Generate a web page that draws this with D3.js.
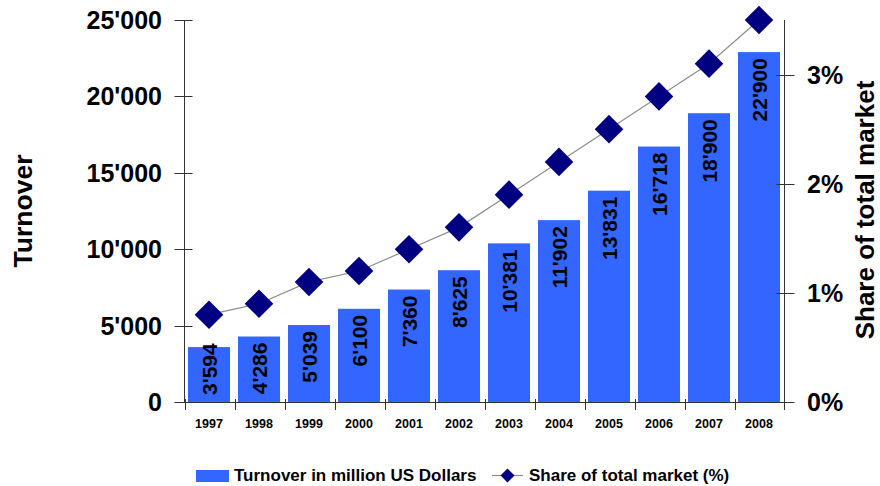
<!DOCTYPE html>
<html>
<head>
<meta charset="utf-8">
<script src="https://cdn.jsdelivr.net/npm/d3@7"></script>
<style>
  html, body { margin: 0; padding: 0; background: #fff; }
  svg { display: block; font-family: "Liberation Sans", Arial, sans-serif; font-weight: bold; }
</style>
</head>
<body>
<svg id="chart" width="880" height="486"></svg>
<script>
const years = ["1997","1998","1999","2000","2001","2002","2003","2004","2005","2006","2007","2008"];
const turnover = [3594, 4286, 5039, 6100, 7360, 8625, 10381, 11902, 13831, 16718, 18900, 22900];
const share = [0.8, 0.9, 1.1, 1.2, 1.4, 1.6, 1.9, 2.2, 2.5, 2.8, 3.1, 3.5];
const leftTicks = [0, 5000, 10000, 15000, 20000, 25000];
const rightTicks = [0, 1, 2, 3];
const seriesNames = ["Turnover in million US Dollars", "Share of total market (%)"];
const axisTitles = ["Turnover", "Share of total market"];

const svg = d3.select("#chart");
const L = 184.5, R = 784.5, T = 20, B = 402;
const barColor = "#3366FF", markColor = "#000080", lineColor = "#8c8c8c", axisColor = "#333";

const fmt = v => {
  const s = String(v);
  return s.length > 3 ? s.slice(0, -3) + "'" + s.slice(-3) : s;
};

const x = d3.scaleBand().domain(years).range([L - 0.5, R - 0.5]).paddingInner(0.16).paddingOuter(0.08);
const yL = d3.scaleLinear().domain([0, 25000]).range([B, T]);
const yR = d3.scaleLinear().domain([0, 3.5]).range([B, T]);

// bars
svg.append("g").selectAll("rect").data(years).join("rect")
  .attr("x", d => x(d)).attr("width", x.bandwidth())
  .attr("y", (d, i) => yL(turnover[i])).attr("height", (d, i) => B - yL(turnover[i]))
  .attr("fill", barColor);

// bar labels
const fs = 21;
const lab = svg.append("g").attr("font-size", fs).attr("fill", "#000");
years.forEach((yr, i) => {
  const cx = x(yr) + x.bandwidth() / 2 + 0.36 * fs;
  const t = lab.append("text").text(fmt(turnover[i]));
  const len = t.node().getComputedTextLength();
  let topY = yL(turnover[i]) + 6;
  if (topY + len > B - 7) topY = B - 7 - len;
  t.attr("text-anchor", "end")
   .attr("transform", `translate(${cx},${topY}) rotate(-90)`);
});

// line + markers
const lineGen = d3.line().x((d, i) => x(years[i]) + x.bandwidth() / 2).y(d => yR(d));
svg.append("path").datum(share).attr("d", lineGen)
  .attr("fill", "none").attr("stroke", lineColor).attr("stroke-width", 1.2);
const dia = d3.symbol().type(d3.symbolSquare).size(14.3 * 14.3 * 2);
svg.append("g").selectAll("path").data(share).join("path")
  .attr("d", dia)
  .attr("transform", (d, i) => `translate(${x(years[i]) + x.bandwidth() / 2},${yR(d)}) rotate(45)`)
  .attr("fill", markColor);

// axes
const ax = svg.append("g").attr("stroke", axisColor).attr("stroke-width", 1);
ax.append("line").attr("x1", L).attr("x2", L).attr("y1", T).attr("y2", B);
ax.append("line").attr("x1", R).attr("x2", R).attr("y1", T).attr("y2", B);
ax.append("line").attr("x1", L).attr("x2", R).attr("y1", B + 0.5).attr("y2", B + 0.5);

// left ticks
const lt = svg.append("g").attr("font-size", 25);
leftTicks.forEach(v => {
  const yy = Math.round(yL(v)) + 0.5;
  lt.append("line").attr("x1", L - 10).attr("x2", L + 8).attr("y1", yy).attr("y2", yy).attr("stroke", axisColor);
  lt.append("text").attr("x", 162).attr("y", yL(v)).attr("dy", "0.36em")
    .attr("text-anchor", "end").text(fmt(v));
});
// right ticks
const rt = svg.append("g").attr("font-size", 25);
rightTicks.forEach(v => {
  const yy = Math.round(yR(v)) + 0.5;
  rt.append("line").attr("x1", R - 8).attr("x2", R + 10).attr("y1", yy).attr("y2", yy).attr("stroke", axisColor);
  rt.append("text").attr("x", 807).attr("y", yR(v)).attr("dy", "0.36em").text(v + "%");
});
// x ticks (category boundaries)
const xt = svg.append("g");
years.forEach((yr, i) => {
  const bx = Math.round(L + i * x.step());
  xt.append("line").attr("x1", bx + 0.5).attr("x2", bx + 0.5).attr("y1", B - 3).attr("y2", B + 8).attr("stroke", axisColor);
});
xt.append("line").attr("x1", R).attr("x2", R).attr("y1", B - 3).attr("y2", B + 8).attr("stroke", axisColor);
const xl = svg.append("g").attr("font-size", 12.5).attr("text-anchor", "middle");
years.forEach(yr => {
  xl.append("text").attr("x", x(yr) + x.bandwidth() / 2).attr("y", 428).text(yr);
});

// axis titles
svg.append("text").attr("font-size", 26.5).attr("text-anchor", "middle")
  .attr("transform", "translate(32,211) rotate(-90)").text(axisTitles[0]);
svg.append("text").attr("font-size", 26).attr("text-anchor", "middle")
  .attr("transform", "translate(874,210) rotate(-90)").text(axisTitles[1]);

// legend
const lg = svg.append("g").attr("font-size", 17);
lg.append("rect").attr("x", 196).attr("y", 470).attr("width", 33).attr("height", 12).attr("fill", barColor);
lg.append("text").attr("x", 234).attr("y", 481).text(seriesNames[0]);
lg.append("line").attr("x1", 492).attr("x2", 523).attr("y1", 475.5).attr("y2", 475.5).attr("stroke", lineColor).attr("stroke-width", 1.2);
lg.append("path").attr("d", d3.symbol().type(d3.symbolSquare).size(7 * 7 * 2))
  .attr("transform", "translate(507.5,475.5) rotate(45)").attr("fill", markColor);
lg.append("text").attr("x", 529).attr("y", 481).text(seriesNames[1]);
</script>
</body>
</html>
